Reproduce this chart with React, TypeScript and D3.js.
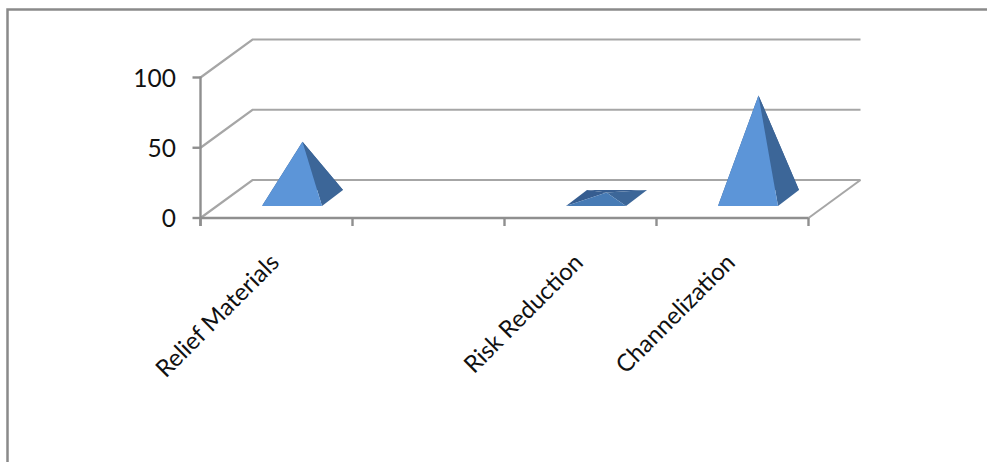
import React from "react";
import * as d3 from "d3";

const categories = ["Relief Materials", "", "Risk Reduction", "Channelization"];
const seriesValues = [40, null, 4, 73];
const yTickValues = [0, 50, 100];

const WIDTH = 987;
const HEIGHT = 462;
const FONT = "Lato, 'Open Sans', sans-serif";
const GRID = "#a6a6a6";
const AXIS = "#8f8f8f";
const FRAME = "#8a8a8a";
const FACE_LIGHT = "#5c95d8";
const FACE_LOW = "#4477b0";
const FACE_RIGHT = "#3c6698";
const FACE_BACK = "#365d90";

// Oblique projection of the chart box: how far the back wall sits from the front plane.
const DEPTH_X = 52;
const DEPTH_Y = -38;

// Pyramid footprint, centred on the floor.
const BASE_HALF_W = 30;
const BASE_HALF_DX = 10.5;
const BASE_HALF_DY = 8;
const BASE_SHIFT_X = 26;
const BASE_SHIFT_Y = -20;

const x = d3.scaleBand<string>().domain(categories.map((_, i) => String(i))).range([200.5, 808.5]);
const y = d3.scaleLinear().domain([0, 100]).range([218, 77.5]);

const pts = (list: [number, number][]) => list.map((p) => p.join(",")).join(" ");

function Pyramid({ index, value }: { index: number; value: number }) {
  const cx = x(String(index))! + x.bandwidth() / 2 + BASE_SHIFT_X;
  const cy = y(0) + BASE_SHIFT_Y;
  const apex: [number, number] = [cx, y(value) + BASE_SHIFT_Y];
  const frontL: [number, number] = [cx - BASE_HALF_W - BASE_HALF_DX, cy + BASE_HALF_DY];
  const frontR: [number, number] = [cx + BASE_HALF_W - BASE_HALF_DX, cy + BASE_HALF_DY];
  const backL: [number, number] = [cx - BASE_HALF_W + BASE_HALF_DX, cy - BASE_HALF_DY];
  const backR: [number, number] = [cx + BASE_HALF_W + BASE_HALF_DX, cy - BASE_HALF_DY];
  // A nearly flat pyramid faces upward and catches less of the front light.
  const front = d3.interpolateRgb(FACE_LOW, FACE_LIGHT)(Math.min(1, value / 30));
  return (
    <g>
      <polygon points={pts([backL, backR, apex])} fill={FACE_BACK} />
      <polygon points={pts([frontL, backL, apex])} fill={FACE_BACK} />
      <polygon points={pts([frontR, backR, apex])} fill={FACE_RIGHT} />
      <polygon points={pts([frontL, frontR, apex])} fill={front} />
    </g>
  );
}

export default function App() {
  const left = x.range()[0];
  const right = x.range()[1];
  const tickXs = categories.map((_, i) => x(String(i))!).concat(right);
  return (
    <svg
      width={WIDTH}
      height={HEIGHT}
      viewBox={`0 0 ${WIDTH} ${HEIGHT}`}
      style={{ position: "absolute", left: 0, top: 0, background: "#fff" }}
    >
      {/* Outer frame: only the top and left edges fall inside the canvas */}
      <path d={`M7.5 ${HEIGHT}V9.5H${WIDTH}`} fill="none" stroke={FRAME} strokeWidth={2.5} />

      {/* Gridlines running along the side wall and the back wall */}
      {yTickValues.map((t) => (
        <path
          key={t}
          d={`M${left} ${y(t)}L${left + DEPTH_X} ${y(t) + DEPTH_Y}H${right + DEPTH_X}`}
          fill="none"
          stroke={GRID}
          strokeWidth={2.2}
        />
      ))}

      {/* Right edge of the floor */}
      <line x1={right} y1={y(0)} x2={right + DEPTH_X} y2={y(0) + DEPTH_Y} stroke={GRID} strokeWidth={2} />

      {/* Axes and ticks */}
      <line x1={left} y1={y(100) - 1} x2={left} y2={y(0) + 8} stroke={AXIS} strokeWidth={2.4} />
      <line x1={left} y1={y(0)} x2={right} y2={y(0)} stroke={AXIS} strokeWidth={2.4} />
      {yTickValues.map((t) => (
        <line key={t} x1={left - 8} y1={y(t)} x2={left} y2={y(t)} stroke={AXIS} strokeWidth={2.4} />
      ))}
      {tickXs.map((tx) => (
        <line key={tx} x1={tx} y1={y(0)} x2={tx} y2={y(0) + 8} stroke={AXIS} strokeWidth={2.4} />
      ))}

      {yTickValues.map((t) => (
        <text
          key={t}
          x={176}
          y={y(t) + 9}
          textAnchor="end"
          fontFamily={FONT}
          fontSize={24.5}
          fill="#111"
        >
          {t}
        </text>
      ))}

      {seriesValues.map((v, i) => (v === null ? null : <Pyramid key={i} index={i} value={v} />))}

      {categories.map((c, i) =>
        c ? (
          <text
            key={c}
            transform={`translate(${x(String(i))! + x.bandwidth() / 2 + 4},${y(0) + 46}) rotate(-45)`}
            textAnchor="end"
            fontFamily={FONT}
            fontSize={24}
            fill="#111"
          >
            {c}
          </text>
        ) : null
      )}
    </svg>
  );
}
